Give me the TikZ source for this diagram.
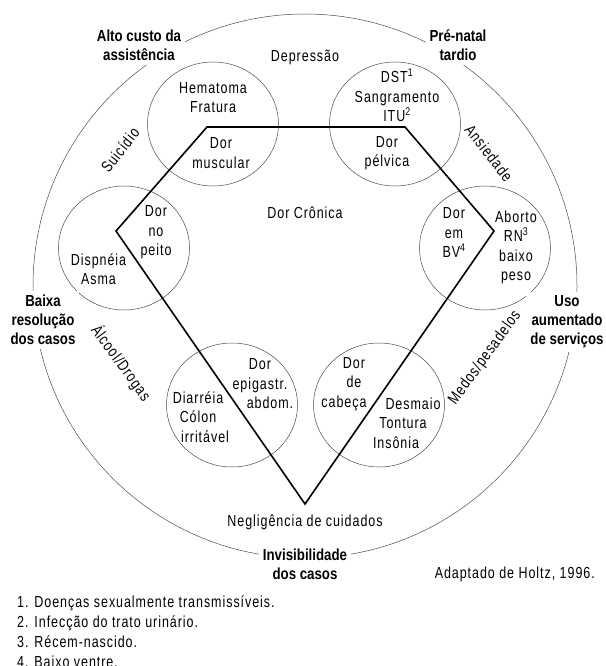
\documentclass[tikz,border=0pt]{standalone}
\usepackage{fontspec}
\usetikzlibrary{shapes.geometric}
\newfontfamily\txtfont{Liberation Sans}[FakeStretch=0.78,LetterSpace=6]
\newfontfamily\keyfont{Liberation Sans}[FakeStretch=0.83]
\tikzset{
  ring/.style={draw=black!70, line width=0.5pt},
  bubble/.style={ellipse, draw=black!70, line width=0.5pt, minimum width=131pt, minimum height=124pt, inner sep=0pt},
  txt/.style={align=center, inner sep=0pt, font=\txtfont\fontsize{16}{19.5}\selectfont},
  key/.style={align=center, inner sep=4pt, fill=white, font=\keyfont\bfseries\fontsize{16}{19}\selectfont},
  edge/.style={line width=1.6pt, line join=miter}
}
\begin{document}
\begin{tikzpicture}[x=1pt,y=-1pt]
\useasboundingbox (0,0) rectangle (605,666);
% outer ring
\draw[ring] (305,286) circle (272pt);
% circles
\node[bubble] (tl) at (213,124) {};
\node[bubble] (tr) at (395,124) {};
\node[bubble] (lf) at (124,248) {};
\node[bubble] (rt) at (485,248) {};
\node[bubble] (bl) at (232,405) {};
\node[bubble] (br) at (379,405) {};
% pain pentagon
\coordinate (p1) at (207,127);
\coordinate (p2) at (405,127);
\coordinate (p3) at (494,231);
\coordinate (p4) at (305,504);
\coordinate (p5) at (116,231);
\draw[edge] (p1) -- (p2) -- (p3) -- (p4) -- (p5) -- cycle;
% inside the circles
\node[txt] (hema) at (213,97.5) {Hematoma\\Fratura};
\node[txt] (musc) at (221,153) {Dor\\muscular};
\node[txt] (dst) at (397,95.5) {DST\textsuperscript{1}\\Sangramento\\ITU\textsuperscript{2}};
\node[txt] (pelv) at (387,153) {Dor\\pélvica};
\node[txt] (peito) at (156,232.5) {Dor\\no\\peito};
\node[txt] (asma) at (98.5,269) {Dispnéia\\Asma};
\node[txt] (bv) at (454,232.5) {Dor\\em\\BV\textsuperscript{4}};
\node[txt] (abort) at (516,247.5) {Aborto\\RN\textsuperscript{3}\\baixo\\peso};
\node[txt] (epig) at (260,384) {Dor\\epigastr.\\\hspace*{20pt}abdom.};
\node[txt] (colon) at (198,417) {Diarréia\\Cólon\\\hspace*{14pt}irritável};
\node[txt] (cabeca) at (354,384) {Dor\\de\\cabeça\hspace*{20pt}};
\node[txt] (desm) at (403,423) {\hspace*{20pt}Desmaio\\Tontura\\Insônia\hspace*{14pt}};
% between the circles
\node[txt] (cron) at (305,213) {Dor Crônica};
\node[txt] (depr) at (305,57) {Depressão};
\node[txt] (negl) at (305,522) {Negligência de cuidados};
\node[txt, rotate=52] (suic) at (120,150) {Suicídio};
\node[txt, rotate=-52] (ansi) at (489,153) {Ansiedade};
\node[txt, rotate=-54] (alc) at (121,363) {Álcool/Drogas};
\node[txt, rotate=54] (medo) at (485,358) {Medos/pesadelos};
% on the ring
\node[key] (custo) at (139,45.5) {Alto custo da\\assistência};
\node[key] (prenat) at (458,45.5) {Pré-natal\\tardio};
\node[key] (baixa) at (43,320) {Baixa\\resolução\\dos casos};
\node[key] (uso) at (567,322) {Uso\\aumentado\\de serviços};
\node[key] (invis) at (305,564.5) {Invisibilidade\\dos casos};
% source and notes
\node[txt, anchor=east] (fonte) at (595,574) {Adaptado de Holtz, 1996.};
\node[txt, anchor=west, align=left, font=\txtfont\fontsize{16}{20}\selectfont] (notas) at (17,632)
  {1. Doenças sexualmente transmissíveis.\\2. Infecção do trato urinário.\\3. Récem-nascido.\\4. Baixo ventre.};
\end{tikzpicture}
\end{document}
